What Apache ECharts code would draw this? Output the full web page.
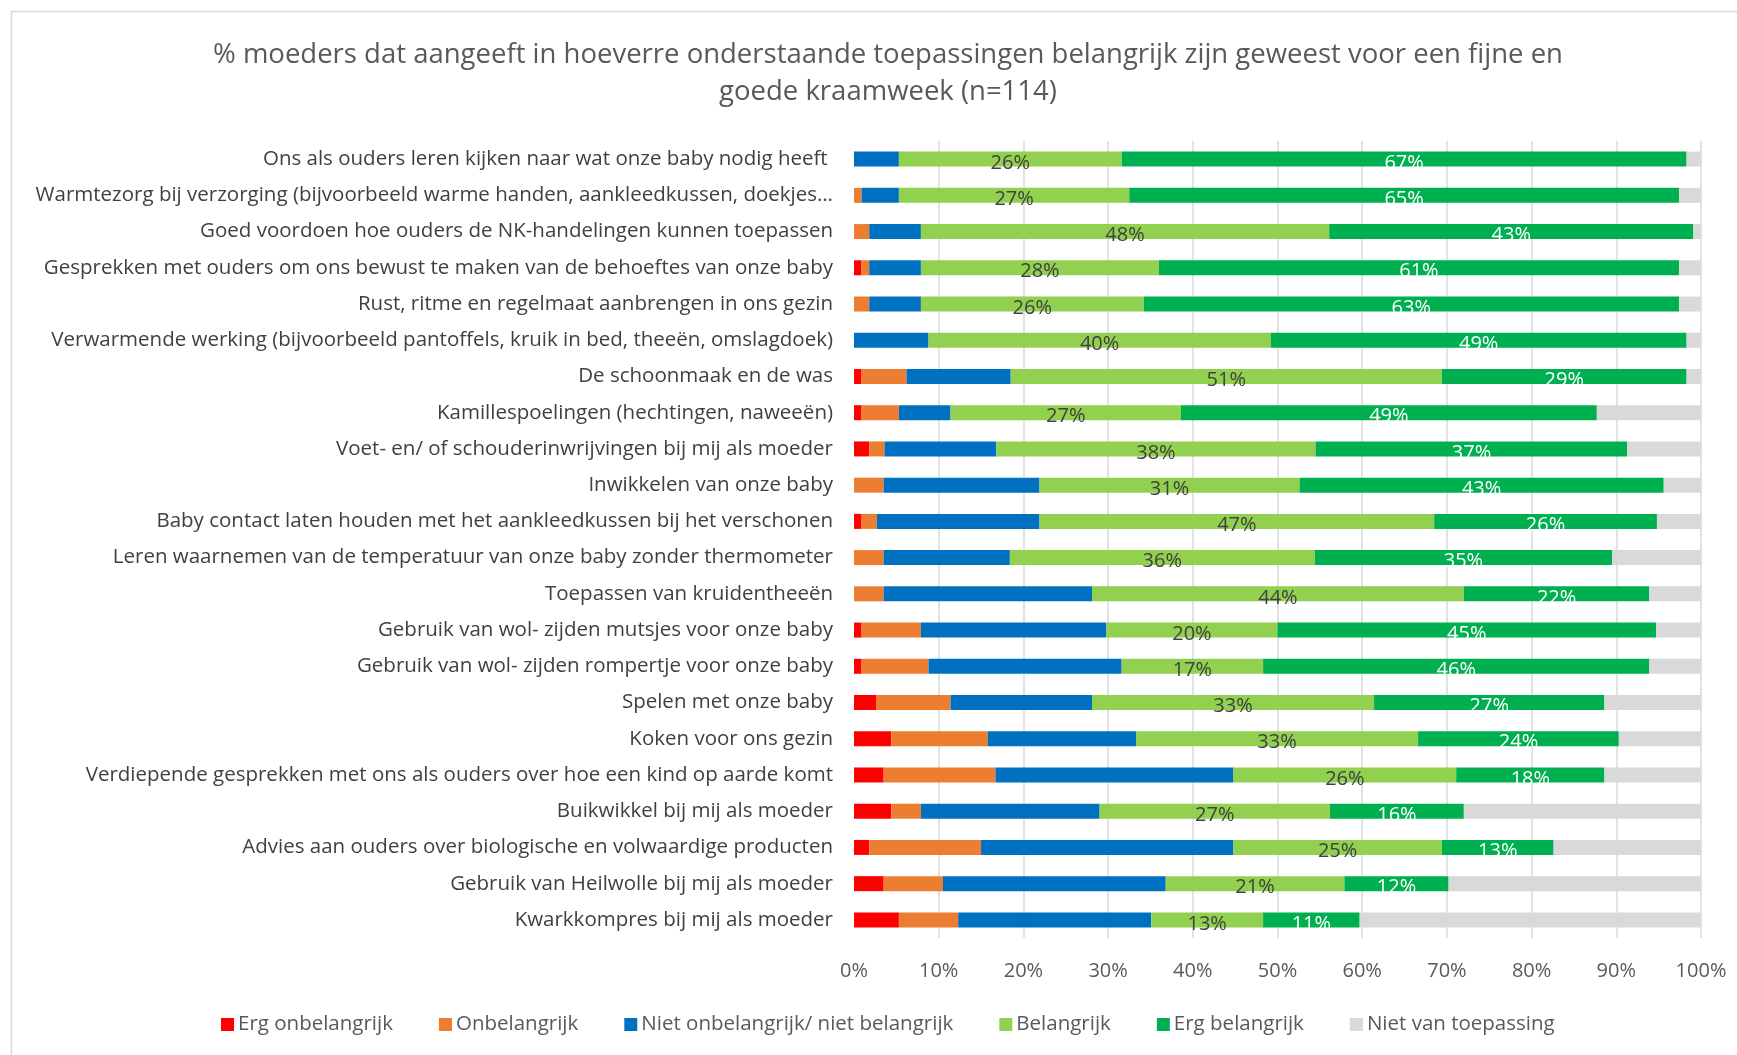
<!DOCTYPE html>
<html>
<head>
<meta charset="utf-8">
<title>kraamweek</title>
<script src="https://cdn.jsdelivr.net/npm/echarts@6/dist/echarts.min.js"></script>
<style>
    html, body {
        margin: 0;
        padding: 0;
        background: #ffffff;
    }
    #chart {
        width: 1737px;
        height: 1055px;
    }
</style>
</head>
<body>
<div id="chart"></div>
<script>
// categorieen, van boven naar beneden
let categories = [
    'Ons als ouders leren kijken naar wat onze baby nodig heeft ',
    'Warmtezorg bij verzorging (bijvoorbeeld warme handen, aankleedkussen, doekjes…',
    'Goed voordoen hoe ouders de NK-handelingen kunnen toepassen',
    'Gesprekken met ouders om ons bewust te maken van de behoeftes van onze baby',
    'Rust, ritme en regelmaat aanbrengen in ons gezin',
    'Verwarmende werking (bijvoorbeeld pantoffels, kruik in bed, theeën, omslagdoek)',
    'De schoonmaak en de was',
    'Kamillespoelingen (hechtingen, naweeën)',
    'Voet- en/ of schouderinwrijvingen bij mij als moeder',
    'Inwikkelen van onze baby',
    'Baby contact laten houden met het aankleedkussen bij het verschonen',
    'Leren waarnemen van de temperatuur van onze baby zonder thermometer',
    'Toepassen van kruidentheeën',
    'Gebruik van wol- zijden mutsjes voor onze baby',
    'Gebruik van wol- zijden rompertje voor onze baby',
    'Spelen met onze baby',
    'Koken voor ons gezin',
    'Verdiepende gesprekken met ons als ouders over hoe een kind op aarde komt',
    'Buikwikkel bij mij als moeder',
    'Advies aan ouders over biologische en volwaardige producten',
    'Gebruik van Heilwolle bij mij als moeder',
    'Kwarkkompres bij mij als moeder'
]

// percentages per antwoordcategorie
let ergOnbelangrijk = [0, 0, 0, 0.9, 0, 0, 0.9, 0.9, 1.8, 0, 0.9, 0, 0, 0.9, 0.9, 2.6, 4.4, 3.5, 4.4, 1.8, 3.5, 5.3]
let onbelangrijk = [0, 0.9, 1.8, 0.9, 1.8, 0, 5.3, 4.4, 1.8, 3.5, 1.8, 3.5, 3.5, 7.0, 7.9, 8.8, 11.4, 13.2, 3.5, 13.2, 7.0, 7.0]
let neutraal = [5.3, 4.4, 6.1, 6.1, 6.1, 8.8, 12.3, 6.1, 13.2, 18.4, 19.2, 14.9, 24.6, 21.9, 22.8, 16.7, 17.5, 28.1, 21.1, 29.8, 26.3, 22.8]
let belangrijk = [26.3, 27.2, 48.2, 28.1, 26.3, 40.4, 50.9, 27.2, 37.7, 30.7, 46.6, 36.0, 43.9, 20.2, 16.7, 33.3, 33.3, 26.3, 27.2, 24.6, 21.1, 13.2]
let ergBelangrijk = [66.7, 64.9, 43.0, 61.4, 63.2, 49.1, 28.9, 49.1, 36.8, 43.0, 26.3, 35.1, 21.9, 44.7, 45.6, 27.2, 23.7, 17.5, 15.8, 13.2, 12.3, 11.4]
let nietVanToepassing = [1.7, 2.6, 0.9, 2.6, 2.6, 1.7, 1.7, 12.3, 8.7, 4.4, 5.2, 10.5, 6.1, 5.3, 6.1, 11.4, 9.7, 11.4, 28.0, 17.4, 29.8, 40.3]

let seriesNames = ['Erg onbelangrijk', 'Onbelangrijk', 'Niet onbelangrijk/ niet belangrijk', 'Belangrijk', 'Erg belangrijk', 'Niet van toepassing']
let seriesColors = ['#FF0000', '#ED7D31', '#0070C0', '#92D050', '#00B050', '#D9D9D9']
let seriesData = [ergOnbelangrijk, onbelangrijk, neutraal, belangrijk, ergBelangrijk, nietVanToepassing]
let tickLabels = ['0%', '10%', '20%', '30%', '40%', '50%', '60%', '70%', '80%', '90%', '100%']

let fontName = '"Open Sans", "Noto Sans", sans-serif'

// labels alleen bij Belangrijk (donker) en Erg belangrijk (wit)
let labelColors = [null, null, null, '#404040', '#FFFFFF', null]

let series = seriesData.map((data, index) => {
    return {
        name: seriesNames[index],
        type: 'bar',
        stack: 'totaal', // 100% gestapeld
        barWidth: 15,
        itemStyle: {
            color: seriesColors[index]
        },
        label: {
            show: labelColors[index] !== null,
            position: 'inside',
            offset: [0, 4], // Excel zet de tekst iets onder het midden
            color: labelColors[index] || '#404040',
            fontFamily: fontName,
            fontSize: 20,
            formatter: params => Math.round(params.value) + '%'
        },
        data: data
    }
})

let myChart = echarts.init(document.getElementById('chart'))
let options = {
    animation: false,
    textStyle: {
        fontFamily: fontName
    },
    title: {
        text: '% moeders dat aangeeft in hoeverre onderstaande toepassingen belangrijk zijn geweest voor een fijne en\ngoede kraamweek (n=114)',
        left: 883,
        top: 32,
        textAlign: 'center',
        textStyle: {
            color: '#595959',
            fontFamily: fontName,
            fontSize: 27.5,
            fontWeight: 'normal',
            lineHeight: 37
        }
    },
    legend: {
        left: 216,
        top: 1009,
        icon: 'rect',
        itemWidth: 13,
        itemHeight: 13,
        itemGap: 46,
        textStyle: {
            color: '#595959',
            fontFamily: fontName,
            fontSize: 20.5,
            padding: [0, 0, 0, -1]
        },
        data: seriesNames
    },
    grid: {
        left: 854,
        right: 36,
        top: 141,
        bottom: 117,
        containLabel: false
    },
    xAxis: {
        type: 'value',
        min: 0,
        max: 100,
        interval: 10,
        axisLine: { show: false },
        axisTick: { show: false },
        axisLabel: {
            color: '#595959',
            fontFamily: fontName,
            fontSize: 20,
            margin: 23,
            formatter: value => tickLabels[Math.round(value / 10)]
        },
        splitLine: {
            lineStyle: {
                // lijn op 0% niet zichtbaar
                color: ['rgba(0,0,0,0)', '#D9D9D9', '#D9D9D9', '#D9D9D9', '#D9D9D9', '#D9D9D9', '#D9D9D9', '#D9D9D9', '#D9D9D9', '#D9D9D9', '#D9D9D9'],
                width: 1.5
            }
        }
    },
    yAxis: {
        type: 'category',
        inverse: true, // eerste categorie bovenaan
        data: categories,
        axisLine: { show: false },
        axisTick: { show: false },
        axisLabel: {
            color: '#404040',
            fontFamily: fontName,
            fontSize: 20.5,
            margin: 21
        }
    },
    graphic: [{
        type: 'rect',
        left: 9,
        top: 9,
        shape: { width: 1800, height: 1100 },
        style: { fill: 'none', stroke: '#D9D9D9', lineWidth: 1.5 },
        silent: true
    }],
    series: series
}
myChart.setOption(options)
</script>
</body>
</html>
